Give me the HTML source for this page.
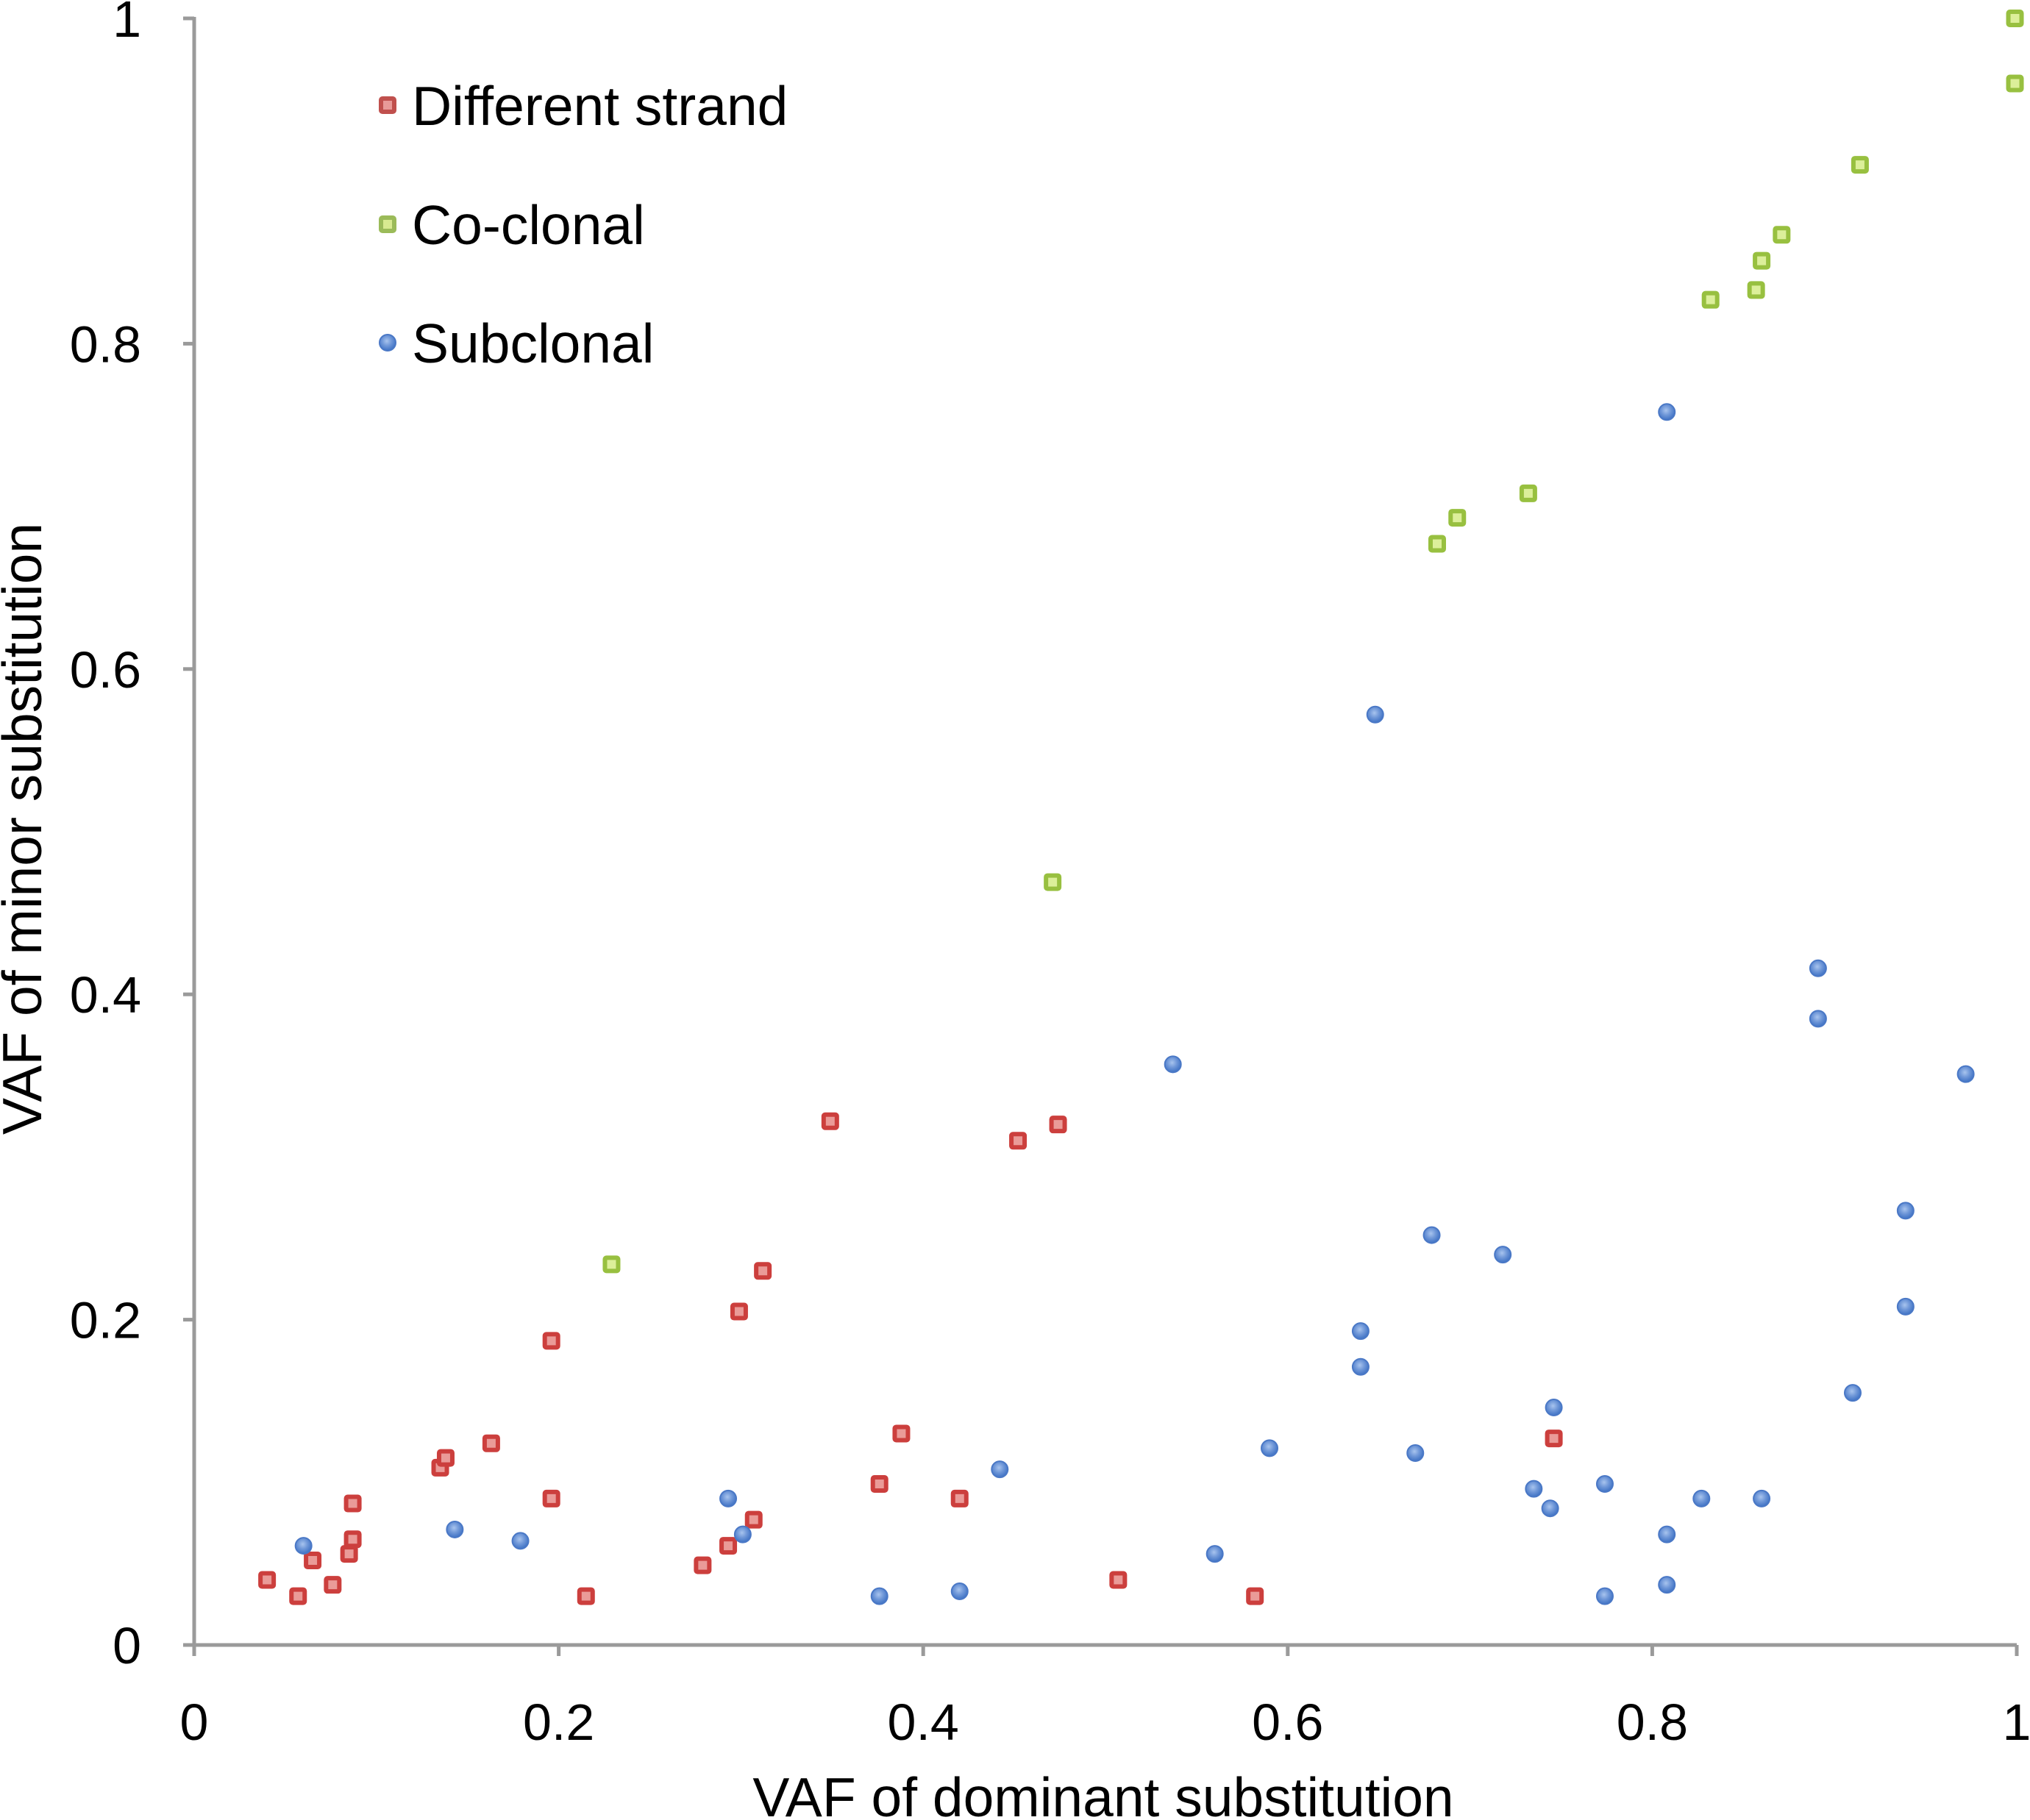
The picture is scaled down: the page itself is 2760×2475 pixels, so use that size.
<!DOCTYPE html>
<html><head><meta charset="utf-8"><style>
html,body{margin:0;padding:0;background:#fff;}
svg{display:block;font-family:"Liberation Sans",Arial,sans-serif;}
</style></head><body>
<svg id="chart" width="2760" height="2475" viewBox="0 0 2760 2475" xmlns="http://www.w3.org/2000/svg">
<defs>
<radialGradient id="gb" cx="0.45" cy="0.4" r="0.6"><stop offset="0" stop-color="#a8c4ee"/><stop offset="0.5" stop-color="#6f97d8"/><stop offset="1" stop-color="#3f72c4"/></radialGradient>
</defs>
<g id="axes"></g>
<g id="marks"></g>
<g id="legend"></g>
</svg>
<script>
const xTicks=[0,0.2,0.4,0.6,0.8,1];
const yTicks=[0,0.2,0.4,0.6,0.8,1];
const xTickLabels=["0","0.2","0.4","0.6","0.8","1"];
const yTickLabels=["0","0.2","0.4","0.6","0.8","1"];
const seriesNames=["Different strand","Co-clonal","Subclonal"];
const diffX=[.040,.057,.065,.076,.085,.087,.087,.135,.138,.163,.196,.196,.215,.279,.293,.299,.307,.312,.349,.376,.388,.420,.452,.474,.507,.582,.746];
const diffY=[.040,.030,.052,.037,.056,.065,.087,.109,.115,.124,.090,.187,.030,.049,.061,.205,.077,.230,.322,.099,.130,.090,.310,.320,.040,.030,.127];
const coX=[.229,.471,.682,.693,.732,.832,.857,.860,.871,.914,.999,.999];
const coY=[.234,.469,.677,.693,.708,.827,.833,.851,.867,.910,1.0,.960];
const subX=[.060,.143,.179,.293,.301,.376,.420,.442,.537,.560,.590,.640,.640,.648,.670,.679,.718,.735,.744,.746,.774,.774,.808,.808,.808,.827,.860,.891,.891,.910,.939,.939,.972];
const subY=[.061,.071,.064,.090,.068,.030,.033,.108,.357,.056,.121,.193,.171,.572,.118,.252,.240,.096,.084,.146,.099,.030,.758,.068,.037,.090,.090,.416,.385,.155,.267,.208,.351];

const NS="http://www.w3.org/2000/svg";
const X0=264,X1=2742,Y0=2237,Y1=25;
const sx=v=>X0+(X1-X0)*v;
const sy=v=>Y0-(Y0-Y1)*v;
function mk(tag,attrs,parent){const e=document.createElementNS(NS,tag);for(const k in attrs)e.setAttribute(k,attrs[k]);parent.appendChild(e);return e;}
const axes=document.getElementById('axes'),marks=document.getElementById('marks'),legend=document.getElementById('legend');

let l=mk('line',{x1:X0,y1:Y0,x2:X1,y2:Y0,stroke:'#9a9a9a','stroke-width':5},axes);


l=mk('line',{x1:X0,y1:Y0+2,x2:X0,y2:Y1-2,stroke:'#9a9a9a','stroke-width':5},axes);


xTicks.forEach((v,i)=>{
  const t=mk('line',{x1:sx(v),y1:Y0,x2:sx(v),y2:Y0+15,stroke:'#9a9a9a','stroke-width':5},axes);
  
  
  const tx=mk('text',{x:sx(v),y:2366,'font-size':70,'text-anchor':'middle',fill:'#000'},axes);
  tx.textContent=xTickLabels[i];
  
  
});
yTicks.forEach((v,i)=>{
  const t=mk('line',{x1:X0-15,y1:sy(v),x2:X0,y2:sy(v),stroke:'#9a9a9a','stroke-width':5},axes);
  
  
  const tx=mk('text',{x:192,y:sy(v)+25,'font-size':70,'text-anchor':'end',fill:'#000'},axes);
  tx.textContent=yTickLabels[i];
  
  
});
let xt=mk('text',{x:1500,y:2470,'font-size':75,'text-anchor':'middle',fill:'#000'},axes);
xt.textContent="VAF of dominant substitution";


let yt=mk('text',{x:0,y:0,'font-size':75,'text-anchor':'middle',fill:'#000',transform:'translate(56,1127) rotate(-90)'},axes);
yt.textContent="VAF of minor substitution";



function square(cx,cy,fill,stroke,parent){
  return mk('rect',{x:cx-9,y:cy-9,width:18,height:18,fill:fill,stroke:stroke,'stroke-width':6,rx:2},parent);
}
function circle(cx,cy,parent){
  return mk('circle',{cx:cx,cy:cy,r:11,fill:'url(#gb)',stroke:'#4a78c6','stroke-width':2},parent);
}
diffX.forEach((v,i)=>{
  const m=square(sx(v),sy(diffY[i]),'#ea9b98','#cc3f3d',marks);
  
  
});
coX.forEach((v,i)=>{
  const m=square(sx(v),sy(coY[i]),'#dcef9a','#98c040',marks);
  
  
});
subX.forEach((v,i)=>{
  const m=circle(sx(v),sy(subY[i]),marks);
  
  
});
const legY=[143,305,466];
seriesNames.forEach((n,i)=>{
  const g=mk('g',{},legend);
  
  
  let m;
  if(i===0)m=square(527,legY[i],'#e89a98','#c0504d',g);
  else if(i===1)m=square(527,legY[i],'#d8ea90','#9bbb59',g);
  else m=circle(527,legY[i],g);
  
  
  const t=mk('text',{x:560,y:legY[i]+27,'font-size':75,fill:'#000'},g);
  t.textContent=n;
  
  
});
</script>
</body></html>
